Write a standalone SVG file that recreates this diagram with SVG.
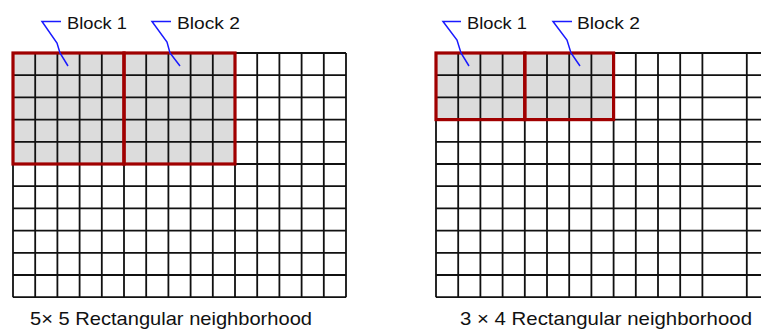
<svg xmlns="http://www.w3.org/2000/svg" width="761" height="329" viewBox="0 0 761 329">
<style>
.bg{fill:#ffffff}
.cell{fill:#dcdcdc}
.grid{fill:none;stroke:#111111;stroke-width:1.8}
.blk{fill:none;stroke:#a00000;stroke-width:3.2}
.lead{fill:none;stroke:#1a1aff;stroke-width:1.5}
.lbl{font-family:"Liberation Sans",Arial,sans-serif;font-size:17px;fill:#111111}
.cap{font-family:"Liberation Sans",Arial,sans-serif;font-size:19px;fill:#111111}
</style>
<rect class="bg" x="0" y="0" width="761" height="329"/>

<g id="grid-left">
<rect class="cell" x="13" y="53" width="222" height="111"/>
<path class="grid" d="M13 53V297.2M35.2 53V297.2M57.4 53V297.2M79.6 53V297.2M101.8 53V297.2M124 53V297.2M146.2 53V297.2M168.4 53V297.2M190.6 53V297.2M212.8 53V297.2M235 53V297.2M257.2 53V297.2M279.4 53V297.2M301.6 53V297.2M323.8 53V297.2M346 53V297.2
M13 53H346M13 75.2H346M13 97.4H346M13 119.6H346M13 141.8H346M13 164H346M13 186.2H346M13 208.4H346M13 230.6H346M13 252.8H346M13 275H346M13 297.2H346"/>
</g>
<g id="block1-left"><rect class="blk" x="13" y="53" width="111" height="111"/></g>
<g id="block2-left"><rect class="blk" x="124" y="53" width="111" height="111"/></g>

<g id="grid-right">
<rect class="cell" x="436" y="53" width="177.6" height="66.6"/>
<path class="grid" d="M436 53V297.2M458.2 53V297.2M480.4 53V297.2M502.6 53V297.2M524.8 53V297.2M547 53V297.2M569.2 53V297.2M591.4 53V297.2M613.6 53V297.2M635.8 53V297.2M658 53V297.2M680.2 53V297.2M702.4 53V297.2M746.8 53V297.2
M436 53H761M436 75.2H761M436 97.4H761M436 119.6H761M436 141.8H761M436 164H761M436 186.2H761M436 208.4H761M436 230.6H761M436 252.8H761M436 275H761M436 297.2H761"/>
</g>
<g id="block1-right"><rect class="blk" x="436" y="53" width="88.8" height="66.6"/></g>
<g id="block2-right"><rect class="blk" x="524.8" y="53" width="88.8" height="66.6"/></g>

<g id="connectors">
<polyline class="lead" points="61,21.5 42,21.5 57,43 60,53 68,66"/>
<polyline class="lead" points="171,21.5 152,21.5 167,42 170,53 180,66"/>
<polyline class="lead" points="461,21.5 443,21.5 457,40 461,53 469,66"/>
<polyline class="lead" points="572,21.5 553,21.5 567,40 571,53 580,66"/>
</g>

<g id="label-block1-left"><text class="lbl" x="67" y="29" textLength="60" lengthAdjust="spacingAndGlyphs">Block 1</text></g>
<g id="label-block2-left"><text class="lbl" x="177" y="29" textLength="63" lengthAdjust="spacingAndGlyphs">Block 2</text></g>
<g id="label-block1-right"><text class="lbl" x="467" y="29" textLength="60" lengthAdjust="spacingAndGlyphs">Block 1</text></g>
<g id="label-block2-right"><text class="lbl" x="577" y="29" textLength="63" lengthAdjust="spacingAndGlyphs">Block 2</text></g>

<g id="caption-left"><text class="cap" x="30" y="325" textLength="282" lengthAdjust="spacingAndGlyphs">5× 5 Rectangular neighborhood</text></g>
<g id="caption-right"><text class="cap" x="460" y="325" textLength="292" lengthAdjust="spacingAndGlyphs">3 × 4  Rectangular neighborhood</text></g>
</svg>
